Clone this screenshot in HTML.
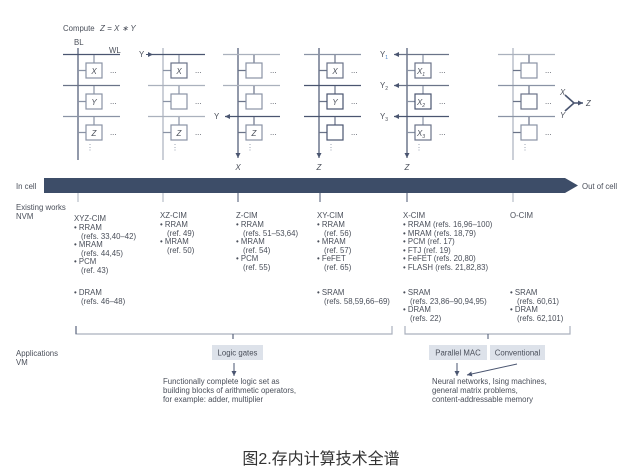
<!DOCTYPE html>
<html><head><meta charset="utf-8"><style>
html,body{margin:0;padding:0;background:#fff;}
svg{display:block;font-family:"Liberation Sans",sans-serif;}
.t{font-size:7.8px;fill:#4a4f5a;}
.i{font-style:italic;font-size:8px;fill:#4a4f5a;}
</style></head><body>
<svg width="642" height="470" viewBox="0 0 642 470">
<defs>
<marker id="ah" markerWidth="6" markerHeight="6" refX="5" refY="3" orient="auto" markerUnits="userSpaceOnUse"><path d="M0,0.5 L5,3 L0,5.5 Z" fill="#4a5570"/></marker>
</defs>
<text x="63" y="31" class="t">Compute</text><text x="100" y="31" class="i">Z = X ∗ Y</text>
<text x="74" y="45" class="t">BL</text><text x="109" y="53" class="t">WL</text>

<g stroke-width="1.2" fill="none">
<g transform="translate(78,0)">
<line x1="0" y1="48" x2="0" y2="160" stroke="#4a5570"/>
<line x1="-15" y1="54.5" x2="42" y2="54.5" stroke="#4a5570"/>
<line x1="-15" y1="85.5" x2="42" y2="85.5" stroke="#6a7388"/>
<line x1="-15" y1="116.5" x2="42" y2="116.5" stroke="#8a93a5"/>
<path d="M16,55v8 M0,70.5h8 M16,86v8 M0,101.5h8 M16,117v8 M0,132.5h8" stroke="#8a93a5"/>
<rect x="8" y="63" width="16" height="15" stroke="#8a93a5"/>
<rect x="8" y="94" width="16" height="15" stroke="#8a93a5"/>
<rect x="8" y="125" width="16" height="15" stroke="#8a93a5"/>
</g>
<g transform="translate(163,0)">
<line x1="0" y1="48" x2="0" y2="160" stroke="#aab1bd"/>
<line x1="-15" y1="54.5" x2="42" y2="54.5" stroke="#4a5570"/>
<line x1="-15" y1="85.5" x2="42" y2="85.5" stroke="#aab1bd"/>
<line x1="-15" y1="116.5" x2="42" y2="116.5" stroke="#aab1bd"/>
<path d="M16,55v8 M0,70.5h8 M16,86v8 M0,101.5h8 M16,117v8 M0,132.5h8" stroke="#8a93a5"/>
<rect x="8" y="63" width="16" height="15" stroke="#6a7388"/>
<rect x="8" y="94" width="16" height="15" stroke="#8a93a5"/>
<rect x="8" y="125" width="16" height="15" stroke="#8a93a5"/>
</g>
<g transform="translate(238,0)">
<line x1="0" y1="48" x2="0" y2="158" stroke="#4a5570" marker-end="url(#ah)"/>
<line x1="-15" y1="54.5" x2="42" y2="54.5" stroke="#aab1bd"/>
<line x1="-15" y1="85.5" x2="42" y2="85.5" stroke="#aab1bd"/>
<line x1="42" y1="116.5" x2="-13" y2="116.5" stroke="#4a5570" marker-end="url(#ah)"/>
<path d="M16,55v8 M0,70.5h8 M16,86v8 M0,101.5h8 M16,117v8 M0,132.5h8" stroke="#6a7388"/>
<rect x="8" y="63" width="16" height="15" stroke="#8a93a5"/>
<rect x="8" y="94" width="16" height="15" stroke="#8a93a5"/>
<rect x="8" y="125" width="16" height="15" stroke="#8a93a5"/>
</g>
<g transform="translate(319,0)">
<line x1="0" y1="48" x2="0" y2="158" stroke="#4a5570" marker-end="url(#ah)"/>
<line x1="-15" y1="54.5" x2="42" y2="54.5" stroke="#8a93a5"/>
<line x1="-15" y1="85.5" x2="42" y2="85.5" stroke="#4a5570"/>
<line x1="-15" y1="116.5" x2="42" y2="116.5" stroke="#4a5570"/>
<path d="M16,55v8 M0,70.5h8 M16,86v8 M0,101.5h8 M16,117v8 M0,132.5h8" stroke="#6a7388"/>
<rect x="8" y="63" width="16" height="15" stroke="#6a7388"/>
<rect x="8" y="94" width="16" height="15" stroke="#4a5570"/>
<rect x="8" y="125" width="16" height="15" stroke="#4a5570"/>
</g>
<g transform="translate(407,0)">
<line x1="0" y1="48" x2="0" y2="158" stroke="#4a5570" marker-end="url(#ah)"/>
<line x1="42" y1="54.5" x2="-13" y2="54.5" stroke="#6a7388" marker-end="url(#ah)"/>
<line x1="42" y1="85.5" x2="-13" y2="85.5" stroke="#6a7388" marker-end="url(#ah)"/>
<line x1="42" y1="116.5" x2="-13" y2="116.5" stroke="#4a5570" marker-end="url(#ah)"/>
<path d="M16,55v8 M0,70.5h8 M16,86v8 M0,101.5h8 M16,117v8 M0,132.5h8" stroke="#8a93a5"/>
<rect x="8" y="63" width="16" height="15" stroke="#6a7388"/>
<rect x="8" y="94" width="16" height="15" stroke="#4a5570"/>
<rect x="8" y="125" width="16" height="15" stroke="#6a7388"/>
</g>
<g transform="translate(513,0)">
<line x1="0" y1="48" x2="0" y2="160" stroke="#aab1bd"/>
<line x1="-15" y1="54.5" x2="42" y2="54.5" stroke="#aab1bd"/>
<line x1="-15" y1="85.5" x2="42" y2="85.5" stroke="#8a93a5"/>
<line x1="-15" y1="116.5" x2="42" y2="116.5" stroke="#8a93a5"/>
<path d="M16,55v8 M0,70.5h8 M16,86v8 M0,101.5h8 M16,117v8 M0,132.5h8" stroke="#6a7388"/>
<rect x="8" y="63" width="16" height="15" stroke="#8a93a5"/>
<rect x="8" y="94" width="16" height="15" stroke="#6a7388"/>
<rect x="8" y="125" width="16" height="15" stroke="#8a93a5"/>
</g>
<line x1="146" y1="54.5" x2="153" y2="54.5" stroke="#4a5570" stroke-width="1" marker-end="url(#ah)"/>
<path d="M565,95 L574,103 M565,111 L574,103 M574,103 H583" stroke="#4a5570" stroke-width="1.6" marker-end="url(#ah)"/>
</g>
<g class="i" text-anchor="middle">
<text x="94" y="74">X</text><text x="94" y="105">Y</text><text x="94" y="136">Z</text>
<text x="179" y="74">X</text><text x="179" y="136">Z</text>
<text x="254" y="136">Z</text>
<text x="335" y="74">X</text><text x="335" y="105">Y</text>
<text x="421" y="74">X<tspan font-size="5" dy="2">1</tspan></text>
<text x="421" y="105">X<tspan font-size="5" dy="2">2</tspan></text>
<text x="421" y="136">X<tspan font-size="5" dy="2">3</tspan></text>
<text x="238" y="170">X</text><text x="319" y="170">Z</text><text x="407" y="170">Z</text>
</g>
<g class="t">
<text x="139" y="57">Y</text><text x="214" y="119">Y</text>
<text x="380" y="57">Y<tspan font-size="5" dy="2" fill="#4a7fc0">1</tspan></text>
<text x="380" y="88">Y<tspan font-size="5" dy="2">2</tspan></text>
<text x="380" y="119">Y<tspan font-size="5" dy="2">3</tspan></text>
<text x="560" y="95" font-style="italic">X</text><text x="560" y="118" font-style="italic">Y</text><text x="586" y="106" font-style="italic">Z</text>
</g>
<g class="t" fill="#6a7388">
<text x="110" y="73">...</text><text x="110" y="104">...</text><text x="110" y="135">...</text>
<text x="195" y="73">...</text><text x="195" y="104">...</text><text x="195" y="135">...</text>
<text x="270" y="73">...</text><text x="270" y="104">...</text><text x="270" y="135">...</text>
<text x="351" y="73">...</text><text x="351" y="104">...</text><text x="351" y="135">...</text>
<text x="439" y="73">...</text><text x="439" y="104">...</text><text x="439" y="135">...</text>
<text x="545" y="73">...</text><text x="545" y="104">...</text><text x="545" y="135">...</text>
</g>
<g font-size="8" fill="#8a93a5" text-anchor="middle">
<text x="90" y="150">⋮</text><text x="175" y="150">⋮</text><text x="250" y="150">⋮</text><text x="331" y="150">⋮</text><text x="419" y="150">⋮</text><text x="525" y="150">⋮</text>
</g>

<path d="M44,178 H565 L578,185.5 L565,193 H44 Z" fill="#3d4d68"/>
<text x="16" y="189" class="t">In cell</text>
<text x="582" y="189" class="t">Out of cell</text>
<g stroke-width="1">
<line x1="78" y1="193" x2="78" y2="202" stroke="#aab1bd"/>
<line x1="163" y1="193" x2="163" y2="202" stroke="#aab1bd"/>
<line x1="238" y1="193" x2="238" y2="202" stroke="#4a5570"/>
<line x1="320" y1="193" x2="320" y2="202" stroke="#4a5570"/>
<line x1="407" y1="193" x2="407" y2="202" stroke="#4a5570"/>
<line x1="513" y1="193" x2="513" y2="202" stroke="#aab1bd"/>
</g>
<text x="16" y="210" class="t">Existing works</text><text x="16" y="219" class="t">NVM</text>

<g class="t">
<text x="74" y="221">XYZ-CIM</text>
<text x="74" y="230">• RRAM</text><text x="81" y="239">(refs. 33,40–42)</text>
<text x="74" y="247">• MRAM</text><text x="81" y="256">(refs. 44,45)</text>
<text x="74" y="264">• PCM</text><text x="81" y="273">(ref. 43)</text>
<text x="74" y="295">• DRAM</text><text x="81" y="304">(refs. 46–48)</text>

<text x="160" y="218">XZ-CIM</text>
<text x="160" y="227">• RRAM</text><text x="167" y="236">(ref. 49)</text>
<text x="160" y="244">• MRAM</text><text x="167" y="253">(ref. 50)</text>

<text x="236" y="218">Z-CIM</text>
<text x="236" y="227">• RRAM</text><text x="243" y="236">(refs. 51–53,64)</text>
<text x="236" y="244">• MRAM</text><text x="243" y="253">(ref. 54)</text>
<text x="236" y="261">• PCM</text><text x="243" y="270">(ref. 55)</text>

<text x="317" y="218">XY-CIM</text>
<text x="317" y="227">• RRAM</text><text x="324" y="236">(ref. 56)</text>
<text x="317" y="244">• MRAM</text><text x="324" y="253">(ref. 57)</text>
<text x="317" y="261">• FeFET</text><text x="324" y="270">(ref. 65)</text>
<text x="317" y="295">• SRAM</text><text x="324" y="304">(refs. 58,59,66–69)</text>

<text x="403" y="218">X-CIM</text>
<text x="403" y="227">• RRAM (refs. 16,96–100)</text>
<text x="403" y="236">• MRAM (refs. 18,79)</text>
<text x="403" y="244">• PCM (ref. 17)</text>
<text x="403" y="253">• FTJ (ref. 19)</text>
<text x="403" y="261">• FeFET (refs. 20,80)</text>
<text x="403" y="270">• FLASH (refs. 21,82,83)</text>
<text x="403" y="295">• SRAM</text><text x="410" y="304">(refs. 23,86–90,94,95)</text>
<text x="403" y="312">• DRAM</text><text x="410" y="321">(refs. 22)</text>

<text x="510" y="218">O-CIM</text>
<text x="510" y="295">• SRAM</text><text x="517" y="304">(refs. 60,61)</text>
<text x="510" y="312">• DRAM</text><text x="517" y="321">(refs. 62,101)</text>
</g>

<path d="M76,326 V334 H392 V326 M233,334 V339" stroke="#aab1bd" stroke-width="1.2" fill="none"/>
<path d="M76,326 V334" stroke="#4a5570" stroke-width="1"/>
<path d="M233,334 V339" stroke="#4a5570" stroke-width="1"/>
<path d="M405,326 V334 H570 V326" stroke="#aab1bd" stroke-width="1.2" fill="none"/>
<path d="M488,334 V339" stroke="#4a5570" stroke-width="1"/>

<text x="16" y="356" class="t">Applications</text><text x="16" y="365" class="t">VM</text>
<rect x="212" y="345" width="51" height="15" fill="#dde2ea"/>
<text x="237.5" y="355.5" class="t" text-anchor="middle" fill="#333">Logic gates</text>
<rect x="429" y="345" width="58" height="15" fill="#dde2ea"/>
<text x="458" y="355.5" class="t" text-anchor="middle" fill="#333">Parallel MAC</text>
<rect x="490" y="345" width="55" height="15" fill="#dde2ea"/>
<text x="517.5" y="355.5" class="t" text-anchor="middle" fill="#333">Conventional</text>
<g stroke="#4a5570" stroke-width="1" fill="none">
<line x1="234" y1="363" x2="234" y2="376" marker-end="url(#ah)"/>
<line x1="457" y1="363" x2="457" y2="376" marker-end="url(#ah)"/>
<line x1="517" y1="364" x2="467" y2="375" marker-end="url(#ah)"/>
</g>
<g class="t">
<text x="163" y="384">Functionally complete logic set as</text>
<text x="163" y="393">building blocks of arithmetic operators,</text>
<text x="163" y="402">for example: adder, multiplier</text>
<text x="432" y="384">Neural networks, Ising machines,</text>
<text x="432" y="393">general matrix problems,</text>
<text x="432" y="402">content-addressable memory</text>
</g>
<text x="321" y="464" text-anchor="middle" font-size="16" fill="#333" style="font-family:'Liberation Sans','Noto Sans CJK SC',sans-serif">图2.存内计算技术全谱</text>
</svg>
</body></html>
